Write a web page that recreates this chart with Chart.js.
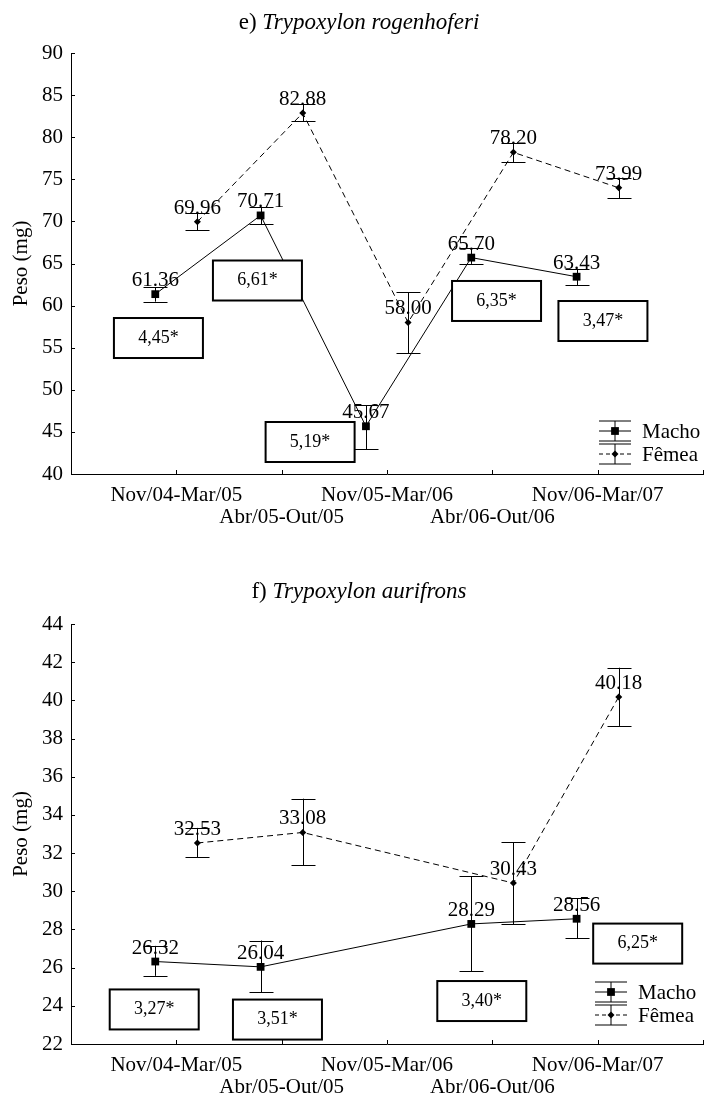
<!DOCTYPE html>
<html>
<head>
<meta charset="utf-8">
<script src="https://cdn.jsdelivr.net/npm/chart.js@4/dist/chart.umd.min.js"></script>
<style>
    body { margin: 0; background: #fff; width: 713px; height: 1102px; overflow: hidden; }
    .panel { position: absolute; left: 0; width: 713px; }
</style>
</head>
<body>
<div class="panel" style="top:0;height:540px"><canvas id="chartE"></canvas></div>
<div class="panel" style="top:540px;height:562px"><canvas id="chartF"></canvas></div>
<script>
const periods = ['Nov/04-Mar/05', 'Abr/05-Out/05', 'Nov/05-Mar/06', 'Abr/06-Out/06', 'Nov/06-Mar/07'];

// e) Trypoxylon rogenhoferi - mean weight (mg) with error bar limits
const rogMacho   = [61.36, 70.71, 45.67, 65.70, 63.43];
const rogMachoLo = [60.47, 69.69, 42.97, 64.95, 62.45];
const rogMachoHi = [62.17, 71.75, 48.19, 66.80, 64.38];
const rogFemea   = [69.96, 82.88, 58.00, 78.20, 73.99];
const rogFemeaLo = [68.98, 81.89, 54.33, 77.02, 72.78];
const rogFemeaHi = [70.96, 83.94, 61.58, 79.35, 75.19];
// boxed test values, anchored in data units (period index, mg)
const rogBoxText = ['4,45*', '6,61*', '5,19*', '6,35*', '3,47*'];
const rogBoxX    = [0.83, 1.77, 2.27, 4.04, 5.05];
const rogBoxY    = [56.15, 62.98, 43.80, 60.55, 58.17];

// f) Trypoxylon aurifrons (no sample for Nov/05-Mar/06)
const aurMacho   = [26.32, 26.04, null, 28.29, 28.56];
const aurMachoLo = [25.57, 24.70, null, 25.80, 27.54];
const aurMachoHi = [27.14, 27.42, null, 30.78, 29.63];
const aurFemea   = [32.53, 33.08, null, 30.43, 40.18];
const aurFemeaLo = [31.79, 31.36, null, 28.27, 38.66];
const aurFemeaHi = [33.32, 34.85, null, 32.57, 41.71];
const aurBoxText = ['3,27*', '3,51*', '3,40*', '6,25*'];
const aurBoxX    = [0.79, 1.96, 3.90, 5.38];
const aurBoxY    = [23.81, 23.28, 24.25, 27.26];

const FONT = '"Liberation Serif", "Times New Roman", serif';

// build {x, y, lo, hi} points, skipping empty periods
function toPoints(vals, lo, hi, shift) {
    const pts = [];
    vals.forEach((v, i) => {
        if (v === null) return;
        pts.push({ x: i + 1 + shift, y: v, lo: lo[i], hi: hi[i] });
    });
    return pts;
}

function legendIcon(ctx, cx, cy, dashed, pointStyle, radius) {
    ctx.beginPath();
    ctx.moveTo(cx - 16, cy - 10); ctx.lineTo(cx + 16, cy - 10);
    ctx.moveTo(cx - 16, cy + 10); ctx.lineTo(cx + 16, cy + 10);
    ctx.moveTo(cx, cy - 10); ctx.lineTo(cx, cy + 10);
    ctx.stroke();
    ctx.setLineDash(dashed ? [4, 3] : []);
    ctx.beginPath();
    ctx.moveTo(cx - 16, cy); ctx.lineTo(cx + 16, cy);
    ctx.stroke();
    ctx.setLineDash([]);
    Chart.helpers.drawPoint(ctx, { pointStyle: pointStyle, radius: radius, rotation: 0, borderWidth: 0 }, cx, cy);
}

function makeChart(id, cfg) {
    const extras = {
        id: 'extras_' + id,
        afterDatasetsDraw(chart) {
            const ctx = chart.ctx;
            const a = chart.chartArea;
            const xs = chart.scales.x, ys = chart.scales.y;
            ctx.save();
            ctx.strokeStyle = '#000';
            ctx.fillStyle = '#000';
            ctx.lineWidth = 1;

            // inward tick marks
            ctx.beginPath();
            xs.ticks.forEach(t => {
                const px = Math.round(xs.getPixelForValue(t.value)) + 0.5;
                ctx.moveTo(px, a.bottom); ctx.lineTo(px, a.bottom - 4);
            });
            ys.ticks.forEach(t => {
                const py = Math.round(ys.getPixelForValue(t.value)) + 0.5;
                ctx.moveTo(a.left, py); ctx.lineTo(a.left + 4, py);
            });
            ctx.stroke();

            // error bars + value labels
            chart.data.datasets.forEach((ds, di) => {
                const meta = chart.getDatasetMeta(di);
                ds.data.forEach((p, j) => {
                    const el = meta.data[j];
                    const x = Math.round(el.x) + 0.5;
                    const yHi = ys.getPixelForValue(p.hi), yLo = ys.getPixelForValue(p.lo);
                    ctx.beginPath();
                    ctx.moveTo(x, yHi); ctx.lineTo(x, yLo);
                    ctx.moveTo(x - 12, Math.round(yHi) + 0.5); ctx.lineTo(x + 12, Math.round(yHi) + 0.5);
                    ctx.moveTo(x - 12, Math.round(yLo) + 0.5); ctx.lineTo(x + 12, Math.round(yLo) + 0.5);
                    ctx.stroke();
                    ctx.font = '21px ' + FONT;
                    ctx.textAlign = 'center';
                    ctx.textBaseline = 'alphabetic';
                    ctx.fillText(p.y.toFixed(2), el.x, el.y - 8);
                });
            });

            // boxed values
            cfg.boxText.forEach((txt, i) => {
                const cx = xs.getPixelForValue(cfg.boxX[i]);
                const cy = ys.getPixelForValue(cfg.boxY[i]);
                const w = 89, h = 40;
                ctx.fillStyle = '#fff';
                ctx.fillRect(cx - w / 2, cy - h / 2, w, h);
                ctx.lineWidth = 2;
                ctx.strokeRect(cx - w / 2, cy - h / 2, w, h);
                ctx.fillStyle = '#000';
                ctx.font = '18px ' + FONT;
                ctx.textAlign = 'center';
                ctx.textBaseline = 'middle';
                ctx.fillText(txt, cx, cy);
            });

            // legend
            ctx.lineWidth = 1;
            const lx = a.right - cfg.legendRight, ly = a.bottom - cfg.legendUp;
            chart.data.datasets.forEach((ds, di) => {
                const cy = ly + di * 23;
                legendIcon(ctx, lx, cy, !!ds.borderDash, ds.pointStyle, ds.pointRadius);
                ctx.font = '21px ' + FONT;
                ctx.textAlign = 'left';
                ctx.textBaseline = 'middle';
                ctx.fillText(ds.label, lx + 27, cy + 1);
            });

            // title: "e) " upright, species name italic
            ctx.textBaseline = 'alphabetic';
            ctx.textAlign = 'left';
            ctx.font = '23px ' + FONT;
            const w1 = ctx.measureText(cfg.titlePrefix).width;
            ctx.font = 'italic 23px ' + FONT;
            const w2 = ctx.measureText(cfg.titleName).width;
            const tx = 359 - (w1 + w2) / 2;
            ctx.font = '23px ' + FONT;
            ctx.fillText(cfg.titlePrefix, tx, cfg.titleBase);
            ctx.font = 'italic 23px ' + FONT;
            ctx.fillText(cfg.titleName, tx + w1, cfg.titleBase);
            ctx.restore();
        }
    };

    return new Chart(document.getElementById(id), {
        type: 'line',
        data: {
            datasets: [
                {
                    label: 'Macho',
                    data: toPoints(cfg.macho, cfg.machoLo, cfg.machoHi, -0.2),
                    borderColor: '#000',
                    backgroundColor: '#000',
                    borderWidth: 1,
                    pointStyle: 'rect',
                    pointRadius: 5.5,
                    pointBorderWidth: 0,
                },
                {
                    label: 'Fêmea',
                    data: toPoints(cfg.femea, cfg.femeaLo, cfg.femeaHi, 0.2),
                    borderColor: '#000',
                    backgroundColor: '#000',
                    borderWidth: 1,
                    borderDash: [6, 4],
                    pointStyle: 'rectRot',
                    pointRadius: 3.5,
                    pointBorderWidth: 0,
                },
            ],
        },
        plugins: [extras],
        options: {
            animation: false,
            responsive: true,
            maintainAspectRatio: false,
            layout: { padding: { top: cfg.padTop, right: 1, left: 0, bottom: 0 } },
            plugins: {
                legend: { display: false },
                tooltip: { enabled: false },
            },
            scales: {
                x: {
                    type: 'linear',
                    min: 0,
                    max: 6,
                    afterFit: (s) => { s.height = cfg.xHeight; },
                    grid: { drawOnChartArea: false, drawTicks: false },
                    border: { display: true, color: '#000', width: 1 },
                    ticks: {
                        stepSize: 1,
                        autoSkip: false,
                        maxRotation: 0,
                        padding: 10,
                        color: '#000',
                        font: { family: FONT, size: 21, lineHeight: 1.05 },
                        callback: (v) => {
                            if (v < 1 || v > periods.length) return '';
                            const name = periods[v - 1];
                            return v % 2 ? [name, ''] : ['', name];
                        },
                    },
                },
                y: {
                    min: cfg.yMin,
                    max: cfg.yMax,
                    afterFit: (s) => { s.width = 71; },
                    grid: { drawOnChartArea: false, drawTicks: false },
                    border: { display: true, color: '#000', width: 1 },
                    title: {
                        display: true,
                        text: 'Peso (mg)',
                        color: '#000',
                        padding: { top: 9, bottom: 0 },
                        font: { family: FONT, size: 21, lineHeight: 1.2 },
                    },
                    ticks: {
                        stepSize: cfg.yStep,
                        padding: 8,
                        color: '#000',
                        font: { family: FONT, size: 21 },
                    },
                },
            },
        },
    });
}

makeChart('chartE', {
    macho: rogMacho, machoLo: rogMachoLo, machoHi: rogMachoHi,
    femea: rogFemea, femeaLo: rogFemeaLo, femeaHi: rogFemeaHi,
    boxText: rogBoxText, boxX: rogBoxX, boxY: rogBoxY,
    yMin: 40, yMax: 90, yStep: 5,
    padTop: 53, xHeight: 66,
    legendRight: 88, legendUp: 43,
    titlePrefix: 'e) ', titleName: 'Trypoxylon rogenhoferi', titleBase: 29,
});

makeChart('chartF', {
    macho: aurMacho, machoLo: aurMachoLo, machoHi: aurMachoHi,
    femea: aurFemea, femeaLo: aurFemeaLo, femeaHi: aurFemeaHi,
    boxText: aurBoxText, boxX: aurBoxX, boxY: aurBoxY,
    yMin: 22, yMax: 44, yStep: 2,
    padTop: 84, xHeight: 58,
    legendRight: 92, legendUp: 52,
    titlePrefix: 'f) ', titleName: 'Trypoxylon aurifrons', titleBase: 58,
});
</script>
</body>
</html>
